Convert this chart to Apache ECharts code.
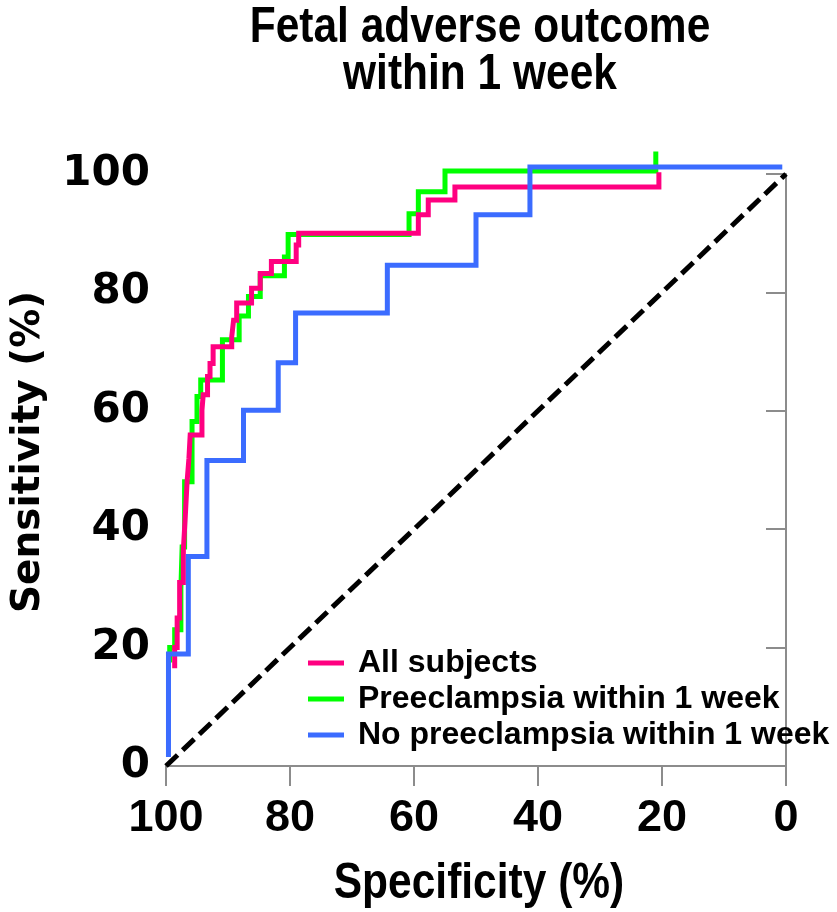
<!DOCTYPE html>
<html>
<head>
<meta charset="utf-8">
<script src="https://cdn.jsdelivr.net/npm/echarts@6/dist/echarts.min.js"></script>
<style>
  html, body { margin: 0; padding: 0; background: #ffffff; }
  #chart { width: 837px; height: 912px; }
</style>
</head>
<body>
<div id="chart"></div>
<script>
// Chart text
const titleLines = ['Fetal adverse outcome', 'within 1 week'];
const xAxisName = 'Specificity (%)';
const yAxisName = 'Sensitivity (%)';
const seriesNames = ['All subjects', 'Preeclampsia within 1 week', 'No preeclampsia within 1 week'];

// Axis ticks (percent)
const xTickValues = [100, 80, 60, 40, 20, 0];
const yTickValues = [0, 20, 40, 60, 80, 100];

// ROC step curves as [specificity %, sensitivity %]
const allSubjects = [
  [98.6, 16.5], [98.6, 20], [98.2, 20], [98.2, 25], [97.8, 25], [97.8, 31],
  [97.2, 31], [97.2, 36.5], [96.9, 36.5], [96.9, 42], [96.6, 42], [96.6, 48],
  [96.3, 48], [96.3, 52], [96.1, 52], [96.1, 55.9], [94.2, 55.9], [94.2, 60.1],
  [94.0, 60.1], [94.0, 62.7], [93.3, 62.7], [93.3, 65.8], [92.9, 65.8], [92.9, 68.0],
  [92.4, 68.0], [92.4, 70.8], [89.4, 70.8], [89.4, 72.5], [89.1, 72.5], [89.1, 75.3],
  [88.6, 75.3], [88.6, 78.2], [86.2, 78.2], [86.2, 80.7], [84.8, 80.7], [84.8, 83.2],
  [83.0, 83.2], [83.0, 85.2], [79.0, 85.2], [79.0, 88.0], [78.6, 88.0], [78.6, 90.0],
  [59.3, 90.0], [59.3, 93.1], [57.7, 93.1], [57.7, 95.6], [53.4, 95.6], [53.4, 97.8],
  [20.5, 97.8], [20.5, 100.3]
];
const preeclampsia = [
  [99.4, 17.5], [99.4, 20], [98.6, 20], [98.6, 23], [97.6, 23], [97.6, 30],
  [97.4, 30], [97.4, 37], [97.0, 37], [97.0, 48], [95.8, 48], [95.8, 58.2],
  [95.0, 58.2], [95.0, 62.4], [94.4, 62.4], [94.4, 65.2], [90.9, 65.2], [90.9, 72.0],
  [88.2, 72.0], [88.2, 76.0], [86.7, 76.0], [86.7, 79.3], [84.8, 79.3], [84.8, 82.8],
  [80.9, 82.8], [80.9, 86.0], [80.3, 86.0], [80.3, 89.8], [60.8, 89.8], [60.8, 93.3],
  [59.3, 93.3], [59.3, 97.0], [55.0, 97.0], [55.0, 100.5], [21.0, 100.5], [21.0, 103.8]
];
const noPreeclampsia = [
  [99.6, 1.5], [99.6, 18.9], [96.4, 18.9], [96.4, 35.4], [93.4, 35.4], [93.4, 51.6],
  [87.5, 51.6], [87.5, 60.1], [81.9, 60.1], [81.9, 68.1], [79.1, 68.1], [79.1, 76.5],
  [64.3, 76.5], [64.3, 84.6], [50.0, 84.6], [50.0, 93.1], [41.3, 93.1], [41.3, 101.2],
  [0.6, 101.2]
];
// Reference (chance) diagonal
const chanceLine = [[100, 0], [0, 100]];

const seriesColors = ['#ff0080', '#00ff00', '#3b6cff'];

const sansFont = '"Liberation Sans", Arial, sans-serif';
const wideFont = '"DejaVu Sans", sans-serif';
const axisGrey = '#8c8c8c';

function curve(name, data, color, z) {
  return {
    name: name,
    type: 'line',
    data: data,
    showSymbol: false,
    symbol: 'none',
    clip: false,
    z: z,
    itemStyle: { color: color },
    lineStyle: { color: color, width: 5, join: 'miter', cap: 'butt' },
    emphasis: { disabled: true },
    animation: false
  };
}

// Condensed bold heading text (title and x-axis name)
function condensedText(text, x, y, lineHeight) {
  return {
    type: 'text',
    x: x,
    y: y,
    scaleX: 0.85,
    silent: true,
    style: {
      text: text,
      fontFamily: sansFont,
      fontWeight: 'bold',
      fontSize: 50,
      lineHeight: lineHeight,
      fill: '#000000',
      align: 'center',
      verticalAlign: 'middle'
    }
  };
}

const chart = echarts.init(document.getElementById('chart'), null, { renderer: 'canvas' });

chart.setOption({
  backgroundColor: '#ffffff',
  animation: false,
  graphic: [
    condensedText(titleLines.join('\n'), 480, 52, 47),
    condensedText(xAxisName, 479, 884, 50)
  ],
  grid: { left: 166, right: 51, top: 174, bottom: 146, containLabel: false },
  legend: {
    orient: 'vertical',
    left: 303,
    top: 642,
    itemGap: 4,
    itemWidth: 36,
    itemHeight: 5,
    icon: 'rect',
    selectedMode: false,
    data: seriesNames,
    textStyle: {
      fontFamily: sansFont,
      fontWeight: 'bold',
      fontSize: 32,
      color: '#000000',
      padding: [0, 0, 0, 9]
    }
  },
  xAxis: {
    type: 'value',
    min: 0,
    max: 100,
    interval: 20,
    inverse: true,
    splitLine: { show: false },
    axisLine: { show: true, lineStyle: { color: axisGrey, width: 2 } },
    axisTick: { show: true, length: 20, lineStyle: { color: axisGrey, width: 2 } },
    axisLabel: {
      margin: 30,
      fontFamily: sansFont,
      fontWeight: 'bold',
      fontSize: 45,
      color: '#000000',
      formatter: function (v) { return xTickValues.indexOf(v) >= 0 ? String(v) : ''; }
    }
  },
  yAxis: {
    type: 'value',
    min: 0,
    max: 100,
    interval: 20,
    name: yAxisName,
    nameLocation: 'middle',
    nameGap: 118,
    nameTextStyle: {
      fontFamily: wideFont,
      fontWeight: 'bold',
      fontSize: 39,
      color: '#000000',
      padding: [0, 0, 0, 36]
    },
    splitLine: { show: false },
    axisLine: { show: true, lineStyle: { color: axisGrey, width: 2 } },
    axisTick: { show: true, length: 20, lineStyle: { color: axisGrey, width: 2 } },
    axisLabel: {
      margin: 16,
      fontFamily: wideFont,
      fontWeight: 'bold',
      fontSize: 42,
      color: '#000000',
      formatter: function (v) { return yTickValues.indexOf(v) >= 0 ? String(v) : ''; }
    }
  },
  series: [
    {
      name: 'chance',
      type: 'line',
      data: chanceLine,
      showSymbol: false,
      symbol: 'none',
      clip: false,
      z: 1,
      lineStyle: { color: '#000000', width: 5, type: [16, 7], cap: 'butt' },
      emphasis: { disabled: true },
      silent: true
    },
    curve(seriesNames[1], preeclampsia, seriesColors[1], 2),
    curve(seriesNames[0], allSubjects, seriesColors[0], 3),
    curve(seriesNames[2], noPreeclampsia, seriesColors[2], 4)
  ]
});
</script>
</body>
</html>
